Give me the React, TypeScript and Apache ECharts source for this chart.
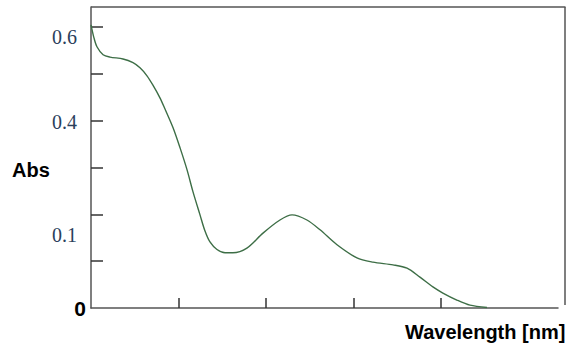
import React, { useEffect, useRef } from "react";
import * as echarts from "echarts";

// Absorbance spectrum (wavelength in nm, absorbance)
const wavelengths = [200, 201.7, 203.4, 206.9, 210.9, 218.3, 224, 228, 232, 235.4, 239.4, 242.3, 246.9, 250.9, 254.9, 258.3, 262.3, 265.1, 268, 272, 276.6, 281.1, 289.1, 298.3, 308, 314.9, 323.4, 330.9, 340.6, 352, 361.1, 372.6, 380.6, 388, 395.4, 401.1, 409.1, 416.6, 426.3];
const absorbance = [0.605, 0.577, 0.558, 0.541, 0.536, 0.532, 0.524, 0.513, 0.496, 0.476, 0.449, 0.425, 0.385, 0.342, 0.295, 0.248, 0.199, 0.165, 0.141, 0.125, 0.118, 0.118, 0.128, 0.16, 0.188, 0.199, 0.188, 0.167, 0.135, 0.107, 0.098, 0.092, 0.085, 0.066, 0.045, 0.032, 0.017, 0.006, 0.001];

const xTickValues = [250, 300, 350, 400];
const yTickValues = [0.1, 0.2, 0.3, 0.4, 0.5, 0.6];
const yLabelValues = [0, 0.156, 0.398, 0.578];
const yLabelTexts = ["0", "0.1", "0.4", "0.6"];

export default function App() {
  const ref = useRef<HTMLDivElement>(null);
  useEffect(() => {
    if (!ref.current) return;
    const chart = echarts.init(ref.current, undefined, { renderer: "svg" });
    const axisColor = "#555555";
    chart.setOption({
      animation: false,
      backgroundColor: "#ffffff",
      grid: { left: 91, right: 10, top: 7, bottom: 37 },
      xAxis: {
        type: "value",
        min: 200,
        max: 466.9,
        axisLine: { show: true, lineStyle: { color: axisColor, width: 1.5 } },
        axisTick: { show: true, inside: true, length: 10, customValues: xTickValues, lineStyle: { color: "#333", width: 1.5 } },
        axisLabel: { show: false },
        splitLine: { show: false },
      },
      yAxis: {
        type: "value",
        min: 0,
        max: 0.643,
        axisLine: { show: true, lineStyle: { color: axisColor, width: 1.5 } },
        axisTick: { show: true, inside: true, length: 12, customValues: yTickValues, lineStyle: { color: "#333", width: 1.5 } },
        axisLabel: {
          show: true,
          customValues: yLabelValues,
          margin: 5,
          formatter: (v: number) => {
            let idx = 0;
            let best = Infinity;
            yLabelValues.forEach((lv, i) => {
              const d = Math.abs(lv - v);
              if (d < best) { best = d; idx = i; }
            });
            const t = yLabelTexts[idx];
            return t === "0" ? `{z|${t}}` : `{n|${t}}`;
          },
          rich: {
            z: { fontFamily: "Liberation Sans, Arial, sans-serif", fontWeight: "bold", fontSize: 21, color: "#000" },
            n: { fontFamily: "Liberation Serif, Times New Roman, serif", fontSize: 20, color: "#2b3f5c", padding: [0, 9, 0, 0] },
          },
        },
        splitLine: { show: false },
      },
      graphic: [
        { type: "line", shape: { x1: 91, y1: 7, x2: 565.5, y2: 7 }, style: { stroke: axisColor, lineWidth: 1.5 } },
        { type: "line", shape: { x1: 565, y1: 7, x2: 565, y2: 305 }, style: { stroke: axisColor, lineWidth: 1.5 } },
        {
          type: "text", left: 12, top: 160,
          style: { text: "Abs", fontFamily: "Liberation Sans, Arial, sans-serif", fontWeight: "bold", fontSize: 20, fill: "#000" },
        },
        {
          type: "text", left: 405, top: 322,
          style: { text: "Wavelength [nm]", fontFamily: "Liberation Sans, Arial, sans-serif", fontWeight: "bold", fontSize: 20, fill: "#000" },
        },
      ],
      series: [
        {
          type: "line",
          data: wavelengths.map((w, i) => [w, absorbance[i]]),
          smooth: 0.3,
          showSymbol: false,
          lineStyle: { color: "#3d6e46", width: 1.4 },
          clip: true,
        },
      ],
    });
    return () => chart.dispose();
  }, []);
  return <div ref={ref} style={{ position: "fixed", left: 0, top: 0, width: 568, height: 345 }} />;
}
